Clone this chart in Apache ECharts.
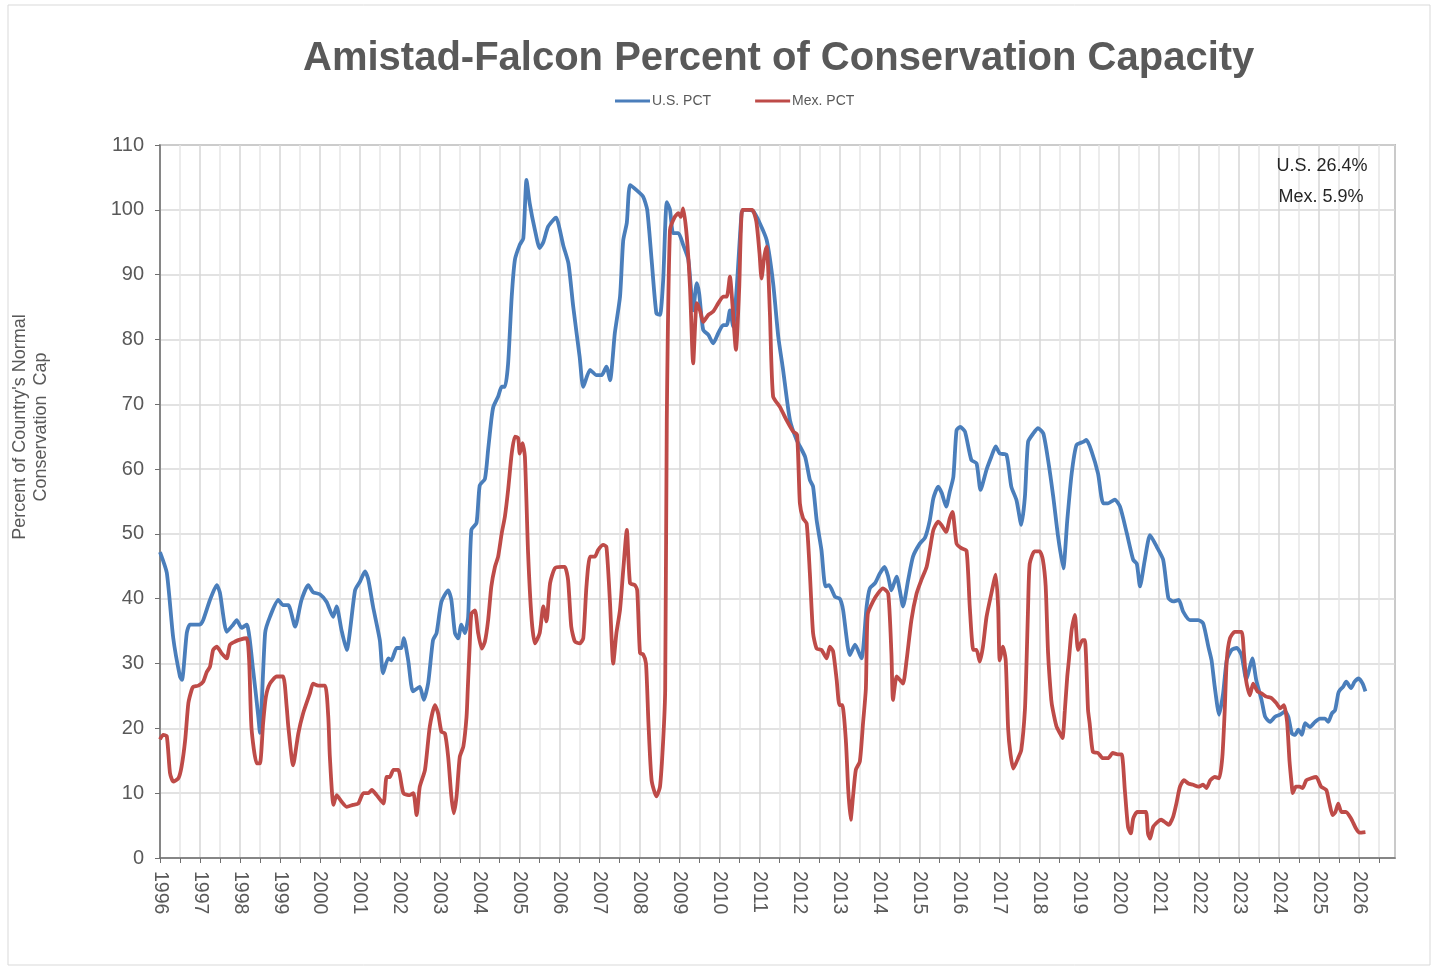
<!DOCTYPE html>
<html>
<head>
<meta charset="utf-8">
<script src="https://cdn.jsdelivr.net/npm/echarts@6/dist/echarts.min.js"></script>
<style>
html,body{margin:0;padding:0;background:#fff;}
#chart{width:1437px;height:967px;}
</style>
</head>
<body>
<div id="chart"></div>
<script>
const titleText = 'Amistad-Falcon Percent of Conservation Capacity';
const seriesNames = ['U.S. PCT', 'Mex. PCT'];
const yAxisTitle = "Percent of Country's Normal\nConservation  Cap";
const noteLines = ['U.S. 26.4%', 'Mex. 5.9%'];

const usYears = [1996.0,1996.17,1996.33,1996.5,1996.55,1996.67,1996.75,1997.0,1997.08,1997.25,1997.42,1997.5,1997.67,1997.83,1997.92,1998.04,1998.17,1998.33,1998.46,1998.5,1998.63,1998.75,1998.96,1999.08,1999.21,1999.38,1999.54,1999.71,1999.83,2000.0,2000.17,2000.33,2000.42,2000.54,2000.67,2000.88,2001.0,2001.13,2001.21,2001.33,2001.5,2001.58,2001.71,2001.79,2001.92,2002.04,2002.1,2002.21,2002.33,2002.5,2002.6,2002.71,2002.83,2002.92,2003.04,2003.21,2003.29,2003.38,2003.46,2003.54,2003.63,2003.71,2003.79,2003.92,2004.0,2004.13,2004.21,2004.29,2004.34,2004.46,2004.55,2004.63,2004.71,2004.8,2004.88,2005.0,2005.09,2005.17,2005.25,2005.38,2005.5,2005.59,2005.71,2005.88,2005.92,2006.0,2006.09,2006.22,2006.34,2006.5,2006.59,2006.76,2006.92,2007.05,2007.17,2007.26,2007.38,2007.51,2007.59,2007.68,2007.76,2007.93,2008.09,2008.19,2008.3,2008.42,2008.51,2008.59,2008.68,2008.76,2008.84,2008.97,2009.09,2009.22,2009.34,2009.43,2009.49,2009.59,2009.72,2009.84,2009.97,2010.09,2010.18,2010.26,2010.34,2010.43,2010.55,2010.59,2010.7,2010.84,2011.01,2011.18,2011.34,2011.47,2011.59,2011.76,2011.93,2012.14,2012.26,2012.34,2012.43,2012.55,2012.65,2012.74,2012.89,2013.01,2013.09,2013.26,2013.39,2013.55,2013.68,2013.76,2013.89,2014.01,2014.13,2014.22,2014.3,2014.43,2014.51,2014.59,2014.72,2014.84,2015.01,2015.14,2015.26,2015.35,2015.47,2015.56,2015.67,2015.76,2015.85,2015.93,2016.02,2016.14,2016.3,2016.43,2016.53,2016.68,2016.8,2016.91,2017.01,2017.18,2017.3,2017.43,2017.55,2017.64,2017.72,2017.85,2017.97,2018.1,2018.22,2018.35,2018.47,2018.6,2018.7,2018.81,2018.93,2019.1,2019.18,2019.3,2019.47,2019.6,2019.72,2019.89,2020.02,2020.19,2020.35,2020.44,2020.52,2020.64,2020.77,2020.94,2021.1,2021.23,2021.35,2021.49,2021.6,2021.77,2021.98,2022.1,2022.23,2022.31,2022.39,2022.5,2022.6,2022.69,2022.81,2022.94,2023.06,2023.18,2023.27,2023.33,2023.43,2023.56,2023.65,2023.77,2023.9,2024.02,2024.15,2024.23,2024.32,2024.4,2024.48,2024.57,2024.65,2024.77,2024.9,2025.02,2025.15,2025.23,2025.32,2025.4,2025.48,2025.52,2025.6,2025.68,2025.8,2025.89,2025.99,2026.09,2026.16];
const usPct = [47.2,44,34,28,27.5,34.7,36,36,36.7,39.8,42.1,40.9,34.9,36,36.7,35.5,36,29,21.8,19.3,34.7,37.2,39.8,39,39,35.7,39.8,42.1,41,40.7,39.5,37.2,38.8,35.2,32.1,41.3,42.6,44.2,43,38.8,33.6,28.5,30.8,30.5,32.4,32.4,33.9,30.5,25.7,26.4,24.4,27,33.6,34.7,39.5,41.3,39.8,34.7,33.9,36,34.7,37.2,50.6,51.7,57.5,58.5,63,67.6,69.6,71.2,72.7,72.7,76.3,86.6,92.3,94.6,95.6,104.6,101,96.9,94.1,95,97.4,98.7,98.8,97,94.5,91.7,85,77.3,72.7,75.3,74.5,74.5,75.8,73.7,81,86.6,95.3,98,103.8,103,102,100,92.3,84,83.8,89.2,101.2,100,96.4,96.4,94.6,92.3,84.5,88.7,87.1,81.5,80.7,79.4,81,82.2,82.2,84.5,82,88,99.5,100,100,99.8,97.9,95.3,88.7,80.4,75.3,67.6,64.5,61.9,58.3,57.3,52.1,47.5,41.9,42.1,40.3,40,38.3,31.3,32.9,30.8,38.8,41.6,42.4,43.9,44.9,43.4,41.3,43.4,41.3,38.8,42.9,46.5,48.5,49.4,52.1,55.5,57.3,56.3,54.2,56.5,58.8,66,66.5,65.8,61.4,60.9,56.8,59.9,61.9,63.5,62.4,62.2,57.3,55.2,51.4,55.7,64.2,65.5,66.3,65.5,61.4,55.7,49.6,44.7,52.1,59.3,63.7,64.2,64.5,62.9,59.3,54.7,54.7,55.3,54.2,50.1,46,45.4,41.9,46,49.8,48,46,40.1,39.6,39.8,38,36.7,36.7,36.2,32.6,30.5,26.4,22.1,25.4,30.5,32.1,32.4,31.3,27.5,29.5,30.8,27.4,24.4,21.8,21,21.8,22.1,22.6,21.8,19.2,19,19.8,19,20.8,20.2,21,21.5,21.5,21,22.3,22.8,25.4,25.9,26.4,27.2,26.2,27.2,27.7,26.9,25.7];

const mexYears = [1996.0,1996.08,1996.17,1996.25,1996.33,1996.46,1996.54,1996.63,1996.71,1996.79,1996.83,1996.96,1997.08,1997.17,1997.25,1997.33,1997.42,1997.54,1997.67,1997.75,1997.88,1998.0,1998.17,1998.23,1998.29,1998.42,1998.5,1998.58,1998.65,1998.75,1998.92,1999.08,1999.17,1999.21,1999.33,1999.46,1999.58,1999.75,1999.83,1999.96,2000.13,2000.21,2000.25,2000.34,2000.42,2000.54,2000.67,2000.83,2000.96,2001.09,2001.21,2001.3,2001.42,2001.59,2001.67,2001.75,2001.84,2001.96,2002.09,2002.25,2002.34,2002.42,2002.5,2002.63,2002.75,2002.88,2002.96,2003.04,2003.13,2003.21,2003.29,2003.35,2003.42,2003.5,2003.59,2003.67,2003.7,2003.75,2003.79,2003.88,2003.96,2004.05,2004.13,2004.21,2004.29,2004.38,2004.46,2004.55,2004.63,2004.71,2004.8,2004.88,2004.96,2005.0,2005.07,2005.13,2005.21,2005.3,2005.38,2005.5,2005.59,2005.67,2005.76,2005.88,2006.04,2006.13,2006.21,2006.29,2006.38,2006.5,2006.59,2006.67,2006.76,2006.88,2006.96,2007.09,2007.17,2007.26,2007.34,2007.42,2007.51,2007.59,2007.68,2007.76,2007.88,2007.94,2008.01,2008.09,2008.16,2008.22,2008.3,2008.42,2008.51,2008.59,2008.64,2008.68,2008.76,2008.88,2008.97,2009.03,2009.09,2009.18,2009.26,2009.34,2009.43,2009.51,2009.59,2009.72,2009.84,2009.97,2010.09,2010.18,2010.26,2010.32,2010.41,2010.49,2010.57,2010.7,2010.82,2010.92,2011.0,2011.05,2011.12,2011.18,2011.26,2011.34,2011.51,2011.68,2011.84,2011.94,2012.01,2012.09,2012.18,2012.26,2012.34,2012.43,2012.55,2012.68,2012.76,2012.84,2012.93,2013.0,2013.07,2013.16,2013.22,2013.28,2013.34,2013.41,2013.51,2013.59,2013.66,2013.68,2013.71,2013.84,2013.96,2014.09,2014.22,2014.3,2014.34,2014.43,2014.51,2014.59,2014.68,2014.8,2014.93,2015.05,2015.18,2015.26,2015.35,2015.47,2015.55,2015.67,2015.76,2015.83,2015.93,2016.05,2016.18,2016.26,2016.35,2016.43,2016.51,2016.59,2016.68,2016.8,2016.91,2016.97,2017.01,2017.09,2017.16,2017.22,2017.28,2017.35,2017.47,2017.55,2017.64,2017.68,2017.72,2017.76,2017.88,2018.01,2018.09,2018.16,2018.22,2018.3,2018.34,2018.43,2018.52,2018.58,2018.64,2018.7,2018.74,2018.81,2018.89,2018.97,2019.08,2019.14,2019.22,2019.26,2019.34,2019.47,2019.59,2019.72,2019.84,2019.96,2020.06,2020.14,2020.22,2020.29,2020.35,2020.45,2020.56,2020.67,2020.72,2020.77,2020.85,2020.97,2021.05,2021.13,2021.24,2021.35,2021.43,2021.52,2021.62,2021.73,2021.85,2021.98,2022.1,2022.18,2022.28,2022.39,2022.5,2022.58,2022.64,2022.69,2022.77,2022.89,2023.06,2023.12,2023.18,2023.27,2023.35,2023.46,2023.56,2023.68,2023.8,2023.93,2024.03,2024.12,2024.2,2024.26,2024.32,2024.34,2024.42,2024.51,2024.59,2024.68,2024.8,2024.93,2025.05,2025.18,2025.26,2025.34,2025.41,2025.48,2025.56,2025.67,2025.8,2025.92,2026.01,2026.16];
const mexPct = [18.3,19,18.8,13.1,11.8,12.3,14.1,18.2,23.9,25.9,26.4,26.6,27.2,28.7,29.5,32.1,32.6,31.6,30.8,32.9,33.4,33.7,33.9,30.5,20,14.6,14.6,20.8,24.9,26.9,28,28,23.3,20.3,14.3,19.2,22.3,25.4,26.9,26.6,26.6,21.8,15.6,8.2,9.7,8.7,7.9,8.2,8.4,10,10,10.5,9.7,8.4,12.5,12.5,13.6,13.6,10,9.7,10,6.6,11,13.6,20.3,23.6,22.3,19.5,19.2,15.6,9.5,6.9,9.5,15.6,17.2,21.8,26,33,37.7,38.2,34.7,32.3,33.4,36.7,41.9,44.9,46.5,50.1,52.7,56.8,62.4,65,64.8,62.4,64,61.9,47,36.7,33.1,34.7,38.8,36.5,42.4,44.7,44.9,44.9,42.9,35.7,33.4,33.1,33.9,41.9,46.5,46.5,47.5,48.3,48,39.3,30,34.7,38.3,44.4,50.6,42.4,42.1,41.3,31.6,31.4,30,21,12,9.5,11,18.2,26,67.6,96.9,98.9,99.5,98.9,100.2,95.9,88.2,76.3,85.6,84.5,82.7,83.8,84.3,85.6,86.6,86.6,89.7,85.6,78.4,87.6,100,100,100,98.2,93.3,89.4,92.8,94.3,84,71.2,69.6,67.5,65.8,65.3,54.7,52.4,51.6,43.9,34.7,32.3,32.1,30.8,32.6,31.9,27.5,23.6,23.6,18.2,10.5,5.9,9.5,13.6,14.9,20.8,26,32,37.7,39.6,40.8,41.6,40.8,31.6,24.4,28,27.5,26.9,30.5,36.7,40.8,42.9,44.9,47.5,50.6,51.9,51.4,50.3,52.4,53.4,48.5,47.8,47.4,38.8,32.1,32.1,30.3,32.6,37.2,40.8,43.7,38.8,30.5,32.6,30.5,20,16,13.8,15.4,16.7,22.8,30,38.8,45.4,47.3,47.3,46,41.9,31.6,24.4,22.8,20.3,19.2,18.5,22.8,28,30.5,35.2,37.5,32.1,33.6,33.6,22.8,20.8,16.4,16.2,15.4,15.4,16.2,16,16,10.5,4.8,3.8,6.1,7.1,7.1,7.1,3.8,3.0,4.8,5.6,5.9,5.6,5.1,6.4,8.4,11,12,11.5,11.3,11,11.3,10.8,12,12.5,12.3,15.6,22.8,30.5,33.9,34.9,34.9,31.6,27.2,25.1,26.9,25.7,25.4,24.9,24.7,23.9,23.1,23.6,21,15,11,10,11,11,10.8,12,12.3,12.5,11,10.5,8.4,6.6,7.1,8.4,7.1,7.1,6.1,4.6,3.9,4.0];

const FONT = "'Liberation Sans', Arial, sans-serif";
const usData = usYears.map((y, i) => [y, usPct[i]]);
const mexData = mexYears.map((y, i) => [y, mexPct[i]]);

const chart = echarts.init(document.getElementById('chart'), null, {renderer: 'canvas'});
chart.setOption({
  animation: false,
  backgroundColor: '#ffffff',
  title: {
    text: titleText,
    left: 298, top: 34,
    textStyle: {fontFamily: FONT, fontSize: 40, fontWeight: 'bold', color: '#595959'}
  },
  legend: {
    data: seriesNames,
    left: 610, top: 89,
    icon: 'rect', itemWidth: 35, itemHeight: 3, itemGap: 44,
    textStyle: {fontFamily: FONT, fontSize: 14, color: '#595959', padding: [0,0,0,-3]}
  },
  grid: {left: 160, right: 42, top: 145, bottom: 109, show: true, borderColor: '#898989', borderWidth: 1.5, backgroundColor: 'transparent'},
  xAxis: {
    type: 'value', min: 1996, max: 2026.9, interval: 0.5,
    axisLine: {show: true, lineStyle: {color: '#6f6f6f', width: 1.5}},
    axisTick: {show: true, length: 5, lineStyle: {color: '#6f6f6f'}},
    axisLabel: {
      rotate: -90, margin: 13, fontFamily: FONT, fontSize: 19.5, color: '#595959',
      showMaxLabel: false,
      formatter: v => (Math.abs(v - Math.round(v)) < 1e-6 ? String(Math.round(v)) : '')
    },
    splitLine: {show: true, lineStyle: {color: ['#d6d6d6', '#e6e6e6'], width: 1.5}}
  },
  yAxis: {
    type: 'value', min: 0, max: 110, interval: 10,
    axisLine: {show: true, lineStyle: {color: '#6f6f6f', width: 1.5}},
    axisTick: {show: true, length: 5, lineStyle: {color: '#6f6f6f'}},
    axisLabel: {margin: 16, fontFamily: FONT, fontSize: 20, color: '#595959'},
    splitLine: {show: true, lineStyle: {color: '#d9d9d9', width: 1.5}}
  },
  graphic: [
    {type: 'rect', shape: {x: 8, y: 5, width: 1422, height: 960}, style: {fill: 'none', stroke: '#d9d9d9', lineWidth: 1}, silent: true, z: -1},
    {type: 'text', x: 31, y: 427, rotation: Math.PI / 2, z: 100,
     style: {text: yAxisTitle, fontFamily: FONT, fontSize: 18, fill: '#595959', align: 'center', verticalAlign: 'middle', lineHeight: 21}},
    {type: 'text', x: 1322, y: 166, z: 100,
     style: {text: noteLines[0], fontFamily: FONT, fontSize: 18, fill: '#262626', align: 'center', verticalAlign: 'middle'}},
    {type: 'text', x: 1321, y: 197, z: 100,
     style: {text: noteLines[1], fontFamily: FONT, fontSize: 18, fill: '#262626', align: 'center', verticalAlign: 'middle'}}
  ],
  series: [
    {name: seriesNames[0], type: 'line', data: usData, showSymbol: false, symbol: 'none', smooth: 0.2,
     lineStyle: {color: '#4A7EBB', width: 3.8}, itemStyle: {color: '#4A7EBB'}},
    {name: seriesNames[1], type: 'line', data: mexData, showSymbol: false, symbol: 'none', smooth: 0.2,
     lineStyle: {color: '#BE4B48', width: 3.8}, itemStyle: {color: '#BE4B48'}}
  ]
});
</script>
</body>
</html>
